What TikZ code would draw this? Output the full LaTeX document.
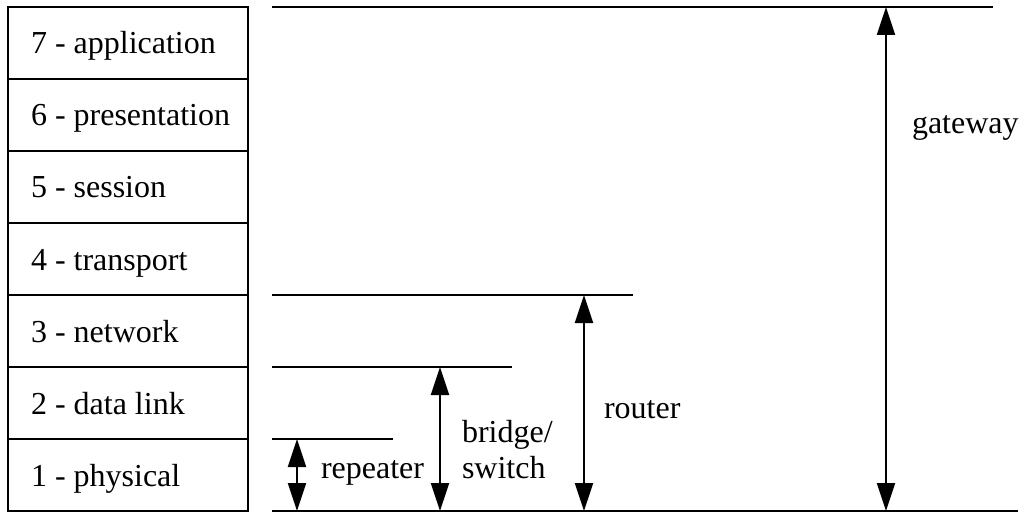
\documentclass[tikz,border=0pt]{standalone}
\usepackage{fontspec}
\setmainfont{Liberation Serif}
\usetikzlibrary{arrows.meta}
\begin{document}
\begin{tikzpicture}[x=1pt,y=-1pt,line width=2pt,
  layer/.style={anchor=base west,inner sep=0pt,font=\fontsize{32}{36}\selectfont},
  lbl/.style={anchor=base west,inner sep=0pt,font=\fontsize{32}{36}\selectfont},
  span/.style={{Triangle[length=28pt,width=18pt]}-{Triangle[length=28pt,width=18pt]}},
  level/.style={line width=2pt}]
\useasboundingbox (0,0) rectangle (1020,513);
% layer stack
\draw (8,7) rectangle (248,511);
\foreach \y in {79,151,223,295,367,439} \draw (8,\y) -- (248,\y);
\node[layer] (l7) at (30,54) {7 - application};
\node[layer] (l6) at (30,126) {6 - presentation};
\node[layer] (l5) at (30,198) {5 - session};
\node[layer] (l4) at (30,270) {4 - transport};
\node[layer] (l3) at (30,342) {3 - network};
\node[layer] (l2) at (30,414) {2 - data link};
\node[layer] (l1) at (30,486) {1 - physical};
% level lines
\coordinate (topL) at (272,7);   \coordinate (topR) at (993,7);
\coordinate (netL) at (272,295); \coordinate (netR) at (633,295);
\coordinate (dlL) at (272,367);  \coordinate (dlR) at (512,367);
\coordinate (phL) at (272,439);  \coordinate (phR) at (393,439);
\coordinate (botL) at (272,511); \coordinate (botR) at (1018,511);
\draw[level] (topL) -- (topR);
\draw[level] (netL) -- (netR);
\draw[level] (dlL) -- (dlR);
\draw[level] (phL) -- (phR);
\draw[level] (botL) -- (botR);
% spans
\coordinate (rpT) at (297,439); \coordinate (rpB) at (297,511);
\coordinate (brT) at (440,367); \coordinate (brB) at (440,511);
\coordinate (roT) at (584,295); \coordinate (roB) at (584,511);
\coordinate (gwT) at (886,7);   \coordinate (gwB) at (886,511);
\draw[span] (rpB) -- (rpT);
\draw[span] (brB) -- (brT);
\draw[span] (roB) -- (roT);
\draw[span] (gwB) -- (gwT);
% labels
\node[lbl] (repeater) at (320,478) {repeater};
\node[lbl] (bridge) at (461,442) {bridge/};
\node[lbl] (switch) at (461,478) {switch};
\node[lbl] (router) at (603,418) {router};
\node[lbl] (gateway) at (911,134) {gateway};
\end{tikzpicture}
\end{document}
